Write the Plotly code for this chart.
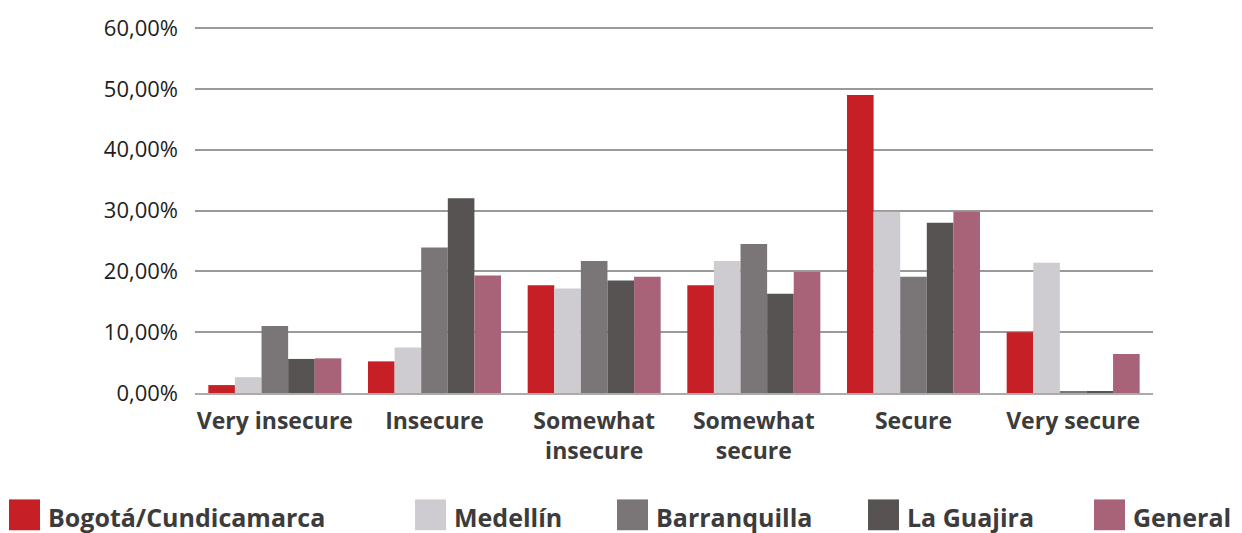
import plotly.graph_objects as go

categories = ["Very insecure", "Insecure", "Somewhat<br>insecure", "Somewhat<br>secure", "Secure", "Very secure"]
series_names = ["Bogotá/Cundicamarca", "Medellín", "Barranquilla", "La Guajira", "General"]
bogota = [1.3, 5.2, 17.7, 17.7, 49.0, 10.0]
medellin = [2.6, 7.5, 17.2, 21.7, 29.8, 21.4]
barranquilla = [11.0, 23.9, 21.7, 24.5, 19.1, 0.3]
la_guajira = [5.6, 32.0, 18.5, 16.3, 28.0, 0.2]
general = [5.7, 19.3, 19.1, 19.9, 29.8, 6.4]
y_ticks = [0, 10, 20, 30, 40, 50, 60]
y_tick_labels = [f"{v:.2f}".replace(".", ",") + "%" for v in y_ticks]

series_values = [bogota, medellin, barranquilla, la_guajira, general]
colors = ["#C61F25", "#CECCD0", "#7A7677", "#575352", "#A86378"]

W, H = 1242, 533
ml, mr, mt, mb = 195, 89, 23, 140
pw, ph = W - ml - mr, H - mt - mb
y_top = 60.5

fig = go.Figure()
for name, vals, col in zip(series_names, series_values, colors):
    fig.add_trace(go.Bar(x=categories, y=vals, name=name, marker_color=col,
                         marker_line_width=0, showlegend=False))

# manual legend (large swatches like the reference)
legend_sq_x = [9, 415, 617, 868, 1094]
font_family = "Open Sans, DejaVu Sans, sans-serif"
shapes = []
annotations = []
for name, col, sx in zip(series_names, colors, legend_sq_x):
    x0 = (sx - ml) / pw
    x1 = (sx + 31 - ml) / pw
    ya = (mt + ph - 500) / ph
    yb = (mt + ph - 531) / ph
    shapes.append(dict(type="rect", xref="paper", yref="paper", x0=x0, x1=x1,
                       y0=yb, y1=ya, fillcolor=col, line_width=0))
    annotations.append(dict(xref="paper", yref="paper", x=(sx + 37 - ml) / pw,
                            y=(mt + ph - 518) / ph, xanchor="left", yanchor="middle",
                            text="<b>" + name + "</b>", showarrow=False,
                            font=dict(size=25, color="#3C3C3C", family=font_family)))

fig.update_layout(
    width=W, height=H,
    margin=dict(l=ml, r=mr, t=mt, b=mb, pad=0),
    paper_bgcolor="white", plot_bgcolor="white",
    barmode="group", bargap=0.167, bargroupgap=0,
    shapes=shapes, annotations=annotations,
    showlegend=False,
    font=dict(family=font_family, color="#222222"),
)
fig.update_yaxes(range=[0, y_top], tickvals=y_ticks, ticktext=y_tick_labels,
                 showgrid=True, gridcolor="#9A9A9A", gridwidth=2,
                 zeroline=False, showline=False, ticks="",
                 ticklabelstandoff=16,
                 tickfont=dict(size=22, color="#1E1E1E", family=font_family))
fig.update_xaxes(showline=True, linecolor="#ABABAB", linewidth=2, ticks="",
                 tickangle=0, ticklabelstandoff=6,
                 tickfont=dict(size=23, color="#3C3C3C", family=font_family),
                 tickprefix="<b>", ticksuffix="</b>")

fig.write_html("out.html", config={"displayModeBar": False},
               post_script="document.body.style.margin='0';document.body.style.overflow='hidden';")
